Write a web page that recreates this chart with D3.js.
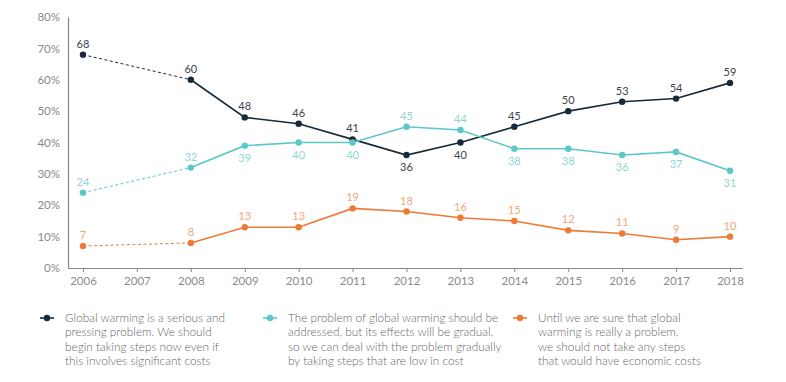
<!DOCTYPE html>
<html><head><meta charset="utf-8">
<script src="https://cdn.jsdelivr.net/npm/d3@7"></script>
<style>
body{margin:0;background:#fff;}
svg{font-family:"Lato","Open Sans",sans-serif;}
</style></head>
<body><svg id="c" width="786" height="382"></svg>
<script>
const years = [2006,2008,2009,2010,2011,2012,2013,2014,2015,2016,2017,2018];
const axisYears = [2006,2007,2008,2009,2010,2011,2012,2013,2014,2015,2016,2017,2018];
const serious = [68,60,48,46,41,36,40,45,50,53,54,59];
const gradual = [24,32,39,40,40,45,44,38,38,36,37,31];
const wait = [7,8,13,13,19,18,16,15,12,11,9,10];
const seriousLabelPos = ["a","a","a","a","a","b","b","a","a","a","a","a"];
const gradualLabelPos = ["a","a","b","b","b","a","a","b","b","b","b","b"];
const waitLabelPos = ["a","a","a","a","a","a","a","a","a","a","a","a"];
const yTicks = [0,10,20,30,40,50,60,70,80];
const legendText = [
 ["Global warming is a serious and","pressing problem. We should","begin taking steps now even if","this involves significant costs"],
 ["The problem of global warming should be","addressed, but its effects will be gradual,","so we can deal with the problem gradually","by taking steps that are low in cost"],
 ["Until we are sure that global","warming is really a problem,","we should not take any steps","that would have economic costs"]
];

const series = [
 {values:serious,pos:seriousLabelPos,color:"#17293a",label:"#3a4450",text:legendText[0]},
 {values:gradual,pos:gradualLabelPos,color:"#5cc7c9",label:"#8fd6d8",text:legendText[1]},
 {values:wait,pos:waitLabelPos,color:"#ee7a36",label:"#f2a77b",text:legendText[2]}
];

const svg = d3.select("#c");
const x = d3.scaleLinear().domain([2006,2018]).range([83,730]);
const y = d3.scaleLinear().domain([0,80]).range([268,17]);

const xAxis = svg.append("g").attr("transform","translate(0,268)")
 .call(d3.axisBottom(x).tickValues(axisYears).tickFormat(d3.format("d")).tickSize(4).tickPadding(5));
xAxis.select(".domain").attr("d","M68,0.5H743");
const yAxis = svg.append("g").attr("transform","translate(68,0)")
 .call(d3.axisLeft(y).tickValues(yTicks).tickFormat(d=>d+"%").tickSize(0).tickPadding(8));
[xAxis,yAxis].forEach(g=>{
 g.select(".domain").attr("stroke","#888").attr("stroke-width",1.2);
 g.selectAll(".tick line").attr("stroke","#888");
 g.selectAll("text").attr("fill","#8a8a8a").style("font-size","11.5px").style("font-family","Lato, sans-serif");
});

series.forEach(s=>{
 const pts = years.map((yr,i)=>({yr,v:s.values[i],p:s.pos[i]}));
 const line = d3.line().x(d=>x(d.yr)).y(d=>y(d.v));
 svg.append("path").attr("d",line(pts.slice(0,2))).attr("fill","none")
   .attr("stroke",s.color).attr("stroke-width",1).attr("stroke-dasharray","3,2.5");
 svg.append("path").attr("d",line(pts.slice(1))).attr("fill","none")
   .attr("stroke",s.color).attr("stroke-width",1.6);
 svg.selectAll(null).data(pts).enter().append("circle")
   .attr("cx",d=>x(d.yr)).attr("cy",d=>y(d.v)).attr("r",3.2).attr("fill",s.color);
 svg.selectAll(null).data(pts).enter().append("text")
   .attr("x",d=>x(d.yr)).attr("y",d=>d.p==="a"?y(d.v)-7:y(d.v)+16)
   .attr("text-anchor","middle").attr("fill",s.label).style("font-size","11px")
   .text(d=>d.v);
});

const legX = [47,270,520];
series.forEach((s,i)=>{
 const g = svg.append("g").attr("transform",`translate(${legX[i]},318)`);
 g.append("line").attr("x1",-7).attr("x2",7).attr("stroke",s.color).attr("stroke-width",1.6);
 g.append("circle").attr("r",3.2).attr("fill",s.color);
 const t = g.append("text").attr("x",18).attr("y",4).attr("fill","#666").style("font-size","11.8px").style("font-weight","300");
 s.text.forEach((ln,j)=>t.append("tspan").attr("x",18).attr("dy",j?14.4:0).text(ln));
});
</script></body></html>
